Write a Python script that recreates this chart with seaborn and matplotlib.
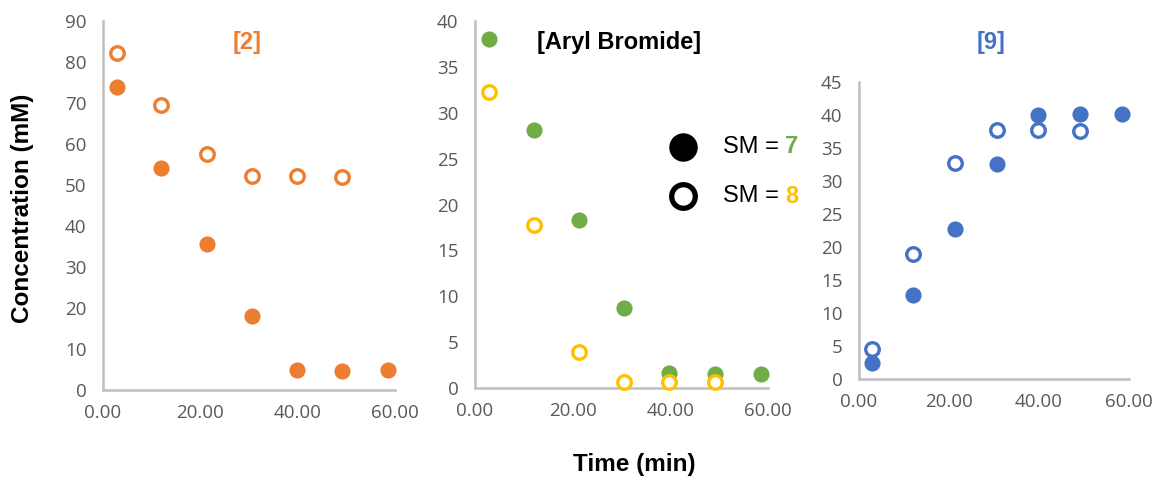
import matplotlib
matplotlib.use("Agg")
import matplotlib.pyplot as plt
import seaborn as sns
import pandas as pd

# ---- data ----
time_sm7 = [2.8, 12.0, 21.3, 30.6, 39.8, 49.1, 58.5]
time_sm8 = [2.8, 12.0, 21.3, 30.6, 39.8, 49.1]

conc2_sm7 = [74.0, 54.2, 35.6, 18.0, 5.0, 4.7, 5.0]
conc2_sm8 = [82.2, 69.5, 57.5, 52.3, 52.3, 52.0]

arbr_sm7 = [38.0, 28.1, 18.3, 8.7, 1.6, 1.5, 1.5]
arbr_sm8 = [32.3, 17.8, 3.9, 0.6, 0.7, 0.7]

conc9_sm7 = [2.5, 12.8, 22.8, 32.6, 40.0, 40.2, 40.1]
conc9_sm8 = [4.5, 18.9, 32.8, 37.7, 37.7, 37.5]

panel_titles = ["[2]", "[Aryl Bromide]", "[9]"]
x_ticks = [0, 20, 40, 60]
x_tick_labels = ["0.00", "20.00", "40.00", "60.00"]
y_limits = [90, 40, 45]
y_steps = [10, 5, 5]

ORANGE = "#ED7D31"
GREEN = "#70AD47"
YELLOW = "#FFC000"
BLUE = "#4472C4"
TICK_GRAY = "#595959"
SPINE_GRAY = "#BFBFBF"

sns.set_style("white")
plt.rcParams["font.family"] = ["Liberation Sans", "DejaVu Sans"]
plt.rcParams["text.color"] = "black"

fig = plt.figure(figsize=(11.55, 4.8), dpi=100)
W, H = 1155, 480

def px_axes(l, r, t, b):
    return fig.add_axes([l / W, 1 - b / H, (r - l) / W, (b - t) / H])

ax1 = px_axes(103, 395, 21, 390)
ax2 = px_axes(475, 768, 21, 388)
ax3 = px_axes(859, 1129, 82, 379)

panels = [
    (ax1, conc2_sm7, conc2_sm8, ORANGE, ORANGE),
    (ax2, arbr_sm7, arbr_sm8, GREEN, YELLOW),
    (ax3, conc9_sm7, conc9_sm8, BLUE, BLUE),
]

for i, (ax, y7, y8, c7, c8) in enumerate(panels):
    d7 = pd.DataFrame({"t": time_sm7, "c": y7})
    d8 = pd.DataFrame({"t": time_sm8, "c": y8})
    sns.scatterplot(data=d8, x="t", y="c", ax=ax, s=95, facecolor="white",
                    edgecolor=c8, linewidth=2.4, zorder=3, clip_on=False)
    sns.scatterplot(data=d7, x="t", y="c", ax=ax, s=135, color=c7,
                    linewidth=0, zorder=2, clip_on=False)
    ax.set_xlim(0, 60)
    ax.set_ylim(0, y_limits[i])
    ax.set_xticks(x_ticks)
    ax.set_xticklabels(x_tick_labels)
    ax.set_yticks(list(range(0, y_limits[i] + 1, y_steps[i])))
    ax.set_xlabel("")
    ax.set_ylabel("")
    for s in ["top", "right"]:
        ax.spines[s].set_visible(False)
    for s in ["left", "bottom"]:
        ax.spines[s].set_color(SPINE_GRAY)
        ax.spines[s].set_linewidth(1.8)
    ax.tick_params(axis="both", length=0, labelcolor=TICK_GRAY, labelsize=13.5)
    ax.tick_params(axis="y", pad=12)
    ax.tick_params(axis="x", pad=10)
    for lab in ax.get_xticklabels() + ax.get_yticklabels():
        lab.set_family(["Open Sans", "DejaVu Sans"])
    ax.set_facecolor("none")

# panel titles
fig.text(247 / W, 1 - 42 / H, panel_titles[0], color=ORANGE, fontsize=17,
         fontweight="bold", ha="center", va="center")
fig.text(619 / W, 1 - 42 / H, panel_titles[1], color="black", fontsize=17,
         fontweight="bold", ha="center", va="center")
fig.text(991 / W, 1 - 43 / H, panel_titles[2], color=BLUE, fontsize=17,
         fontweight="bold", ha="center", va="center")

# axis labels
fig.text(22 / W, 1 - 208 / H, "Concentration (mM)", rotation=90, fontsize=17.5,
         fontweight="bold", ha="center", va="center", color="black")
fig.text(634 / W, 1 - 465 / H, "Time (min)", fontsize=17.5,
         fontweight="bold", ha="center", va="center", color="black")

# legend (manual, in panel 2)
ax2.plot([0.71], [0.657], marker="o", markersize=20.5, color="black",
         markeredgewidth=0, transform=ax2.transAxes, clip_on=False)
ax2.plot([0.71], [0.523], marker="o", markersize=17, markerfacecolor="white",
         markeredgecolor="black", markeredgewidth=3.8,
         transform=ax2.transAxes, clip_on=False)
t1 = ax2.text(0.845, 0.657, "SM = ", fontsize=17, va="center", ha="left",
              transform=ax2.transAxes, clip_on=False, color="black")
ax2.annotate("7", xy=(1, 0.5), xycoords=t1, va="center", ha="left",
             fontsize=17, fontweight="bold", color=GREEN, annotation_clip=False)
t2 = ax2.text(0.845, 0.523, "SM = ", fontsize=17, va="center", ha="left",
              transform=ax2.transAxes, clip_on=False, color="black")
ax2.annotate("8", xy=(1, 0.5), xycoords=t2, va="center", ha="left",
             fontsize=17, fontweight="bold", color=YELLOW, annotation_clip=False)

fig.savefig("out.png", dpi=100)
